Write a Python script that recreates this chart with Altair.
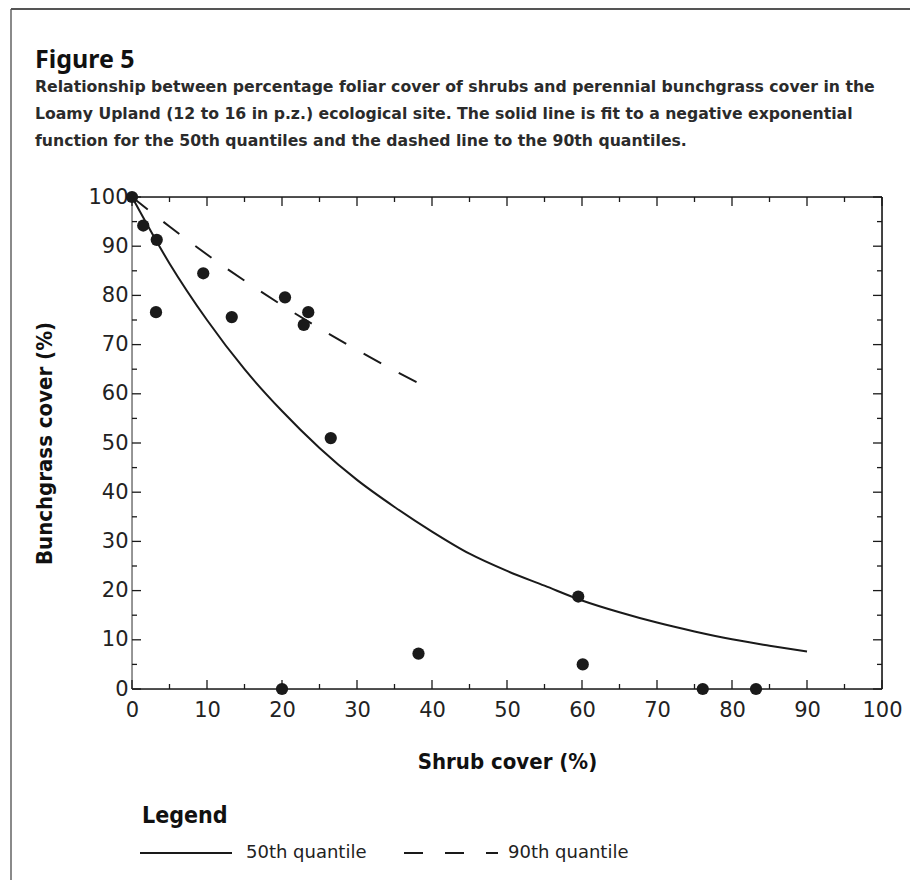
import altair as alt
import pandas as pd

# ---- data ----
shrub_cover = [0, 1.5, 3.3, 3.2, 9.5, 13.3, 20.4, 23.5, 22.9, 26.5, 20.0, 38.2, 59.5, 60.1, 76.1, 83.2]
bunchgrass_cover = [100, 94.2, 91.3, 76.6, 84.5, 75.6, 79.6, 76.6, 74.0, 51.0, 0, 7.2, 18.8, 5.0, 0, 0]

q50_shrub = [0, 5, 10, 15, 20, 25, 30, 35, 40, 45, 50, 55, 60, 65, 70, 75, 80, 85, 90]
q50_grass = [100, 86.5, 75, 65, 56.5, 49, 42.5, 37, 32, 27.5, 24, 21, 18, 15.6, 13.5, 11.7, 10.1, 8.8, 7.6]

q90_shrub = [0, 5, 10, 15, 20, 25, 30, 35, 40]
q90_grass = [100, 94, 88.3, 83, 78, 73.3, 68.9, 64.7, 60.8]

major_ticks = [0, 10, 20, 30, 40, 50, 60, 70, 80, 90, 100]
minor_ticks = [5, 15, 25, 35, 45, 55, 65, 75, 85, 95]

title_text = "Figure 5"
subtitle_lines = [
    "Relationship between percentage foliar cover of shrubs and perennial bunchgrass cover in the",
    "Loamy Upland (12 to 16 in p.z.) ecological site. The solid line is fit to a negative exponential",
    "function for the 50th quantiles and the dashed line to the 90th quantiles.",
]
x_title = "Shrub cover (%)"
y_title = "Bunchgrass cover (%)"
legend_title = "Legend"
legend_labels = ["50th quantile", "90th quantile"]

# ---- layout ----
W, H = 750, 492
PAD_L, PAD_T = 124, 189
TOTAL_W, TOTAL_H = 902, 872
INK = "#1a1a1a"
COND = "Liberation Sans Narrow, DejaVu Sans Condensed, sans-serif"
PLAIN = "DejaVu Sans"

xscale = alt.Scale(domain=[0, 100], nice=False, zero=True)
yscale = alt.Scale(domain=[0, 100], nice=False, zero=True)

xaxis = alt.Axis(values=major_ticks, ticks=False, domain=False, grid=False,
                 labelFont=PLAIN, labelFontSize=21, labelColor="#222", labelPadding=10,
                 labelFlush=False, title=x_title, titleFont=COND, titleFontSize=22,
                 titleFontWeight="bold", titleColor="#111", titlePadding=31)
yaxis = alt.Axis(values=major_ticks, ticks=False, domain=False, grid=False,
                 labelFont=PLAIN, labelFontSize=21, labelColor="#222", labelPadding=4,
                 labelFlush=False, title=y_title, titleFont=COND, titleFontSize=22,
                 titleFontWeight="bold", titleColor="#111", titlePadding=31)


def X(field):
    return alt.X(field, type="quantitative", scale=xscale, axis=xaxis)


def Y(field):
    return alt.Y(field, type="quantitative", scale=yscale, axis=yaxis)


pts = pd.DataFrame({"shrub": shrub_cover, "grass": bunchgrass_cover})
q50 = pd.DataFrame({"shrub": q50_shrub, "grass": q50_grass})
q90 = pd.DataFrame({"shrub": q90_shrub, "grass": q90_grass})
maj = pd.DataFrame({"v": major_ticks})
mnr = pd.DataFrame({"v": minor_ticks})
one = pd.DataFrame({"k": [0]})

layers = []

# frame of the plot
frame = alt.Chart(one)
layers.append(frame.mark_rule(color=INK, strokeWidth=1.6).encode(x=alt.value(0), x2=alt.value(W), y=alt.value(0)))
layers.append(frame.mark_rule(color=INK, strokeWidth=1.6).encode(x=alt.value(0), x2=alt.value(W), y=alt.value(H)))
layers.append(frame.mark_rule(color=INK, strokeWidth=1.6).encode(x=alt.value(W), y=alt.value(0), y2=alt.value(H)))
layers.append(frame.mark_rule(color="#808080", strokeWidth=1.6).encode(x=alt.value(0), y=alt.value(0), y2=alt.value(H)))

# outer page border (left and top)
layers.append(frame.mark_rule(color="#8a8a8a", strokeWidth=2).encode(
    x=alt.value(11 - 8 - PAD_L), y=alt.value(9 - 8 - PAD_T), y2=alt.value(TOTAL_H - PAD_T)))
layers.append(frame.mark_rule(color="#555555", strokeWidth=2).encode(
    x=alt.value(11 - 8 - PAD_L), x2=alt.value(TOTAL_W - PAD_L), y=alt.value(9 - 8 - PAD_T)))

# inward ticks on all four sides
for df, ln in ((maj, 9), (mnr, 5)):
    layers.append(alt.Chart(df).mark_rule(color=INK, strokeWidth=1.3).encode(
        x=X("v"), y=alt.value(H), y2=alt.value(H - ln)))
    layers.append(alt.Chart(df).mark_rule(color=INK, strokeWidth=1.3).encode(
        x=X("v"), y=alt.value(0), y2=alt.value(ln)))
    layers.append(alt.Chart(df).mark_rule(color=INK, strokeWidth=1.3).encode(
        y=Y("v"), x=alt.value(0), x2=alt.value(ln)))
    layers.append(alt.Chart(df).mark_rule(color=INK, strokeWidth=1.3).encode(
        y=Y("v"), x=alt.value(W), x2=alt.value(W - ln)))

# fitted curves
layers.append(alt.Chart(q50).mark_line(color=INK, strokeWidth=2, interpolate="monotone").encode(
    x=X("shrub"), y=Y("grass")))
layers.append(alt.Chart(q90).mark_line(color=INK, strokeWidth=2, strokeDash=[20, 20], interpolate="monotone").encode(
    x=X("shrub"), y=Y("grass")))

# observations
layers.append(alt.Chart(pts).mark_circle(color=INK, opacity=1, size=150).encode(
    x=X("shrub"), y=Y("grass")))

# title block
tx = 35 - 8 - PAD_L
layers.append(frame.mark_text(align="left", baseline="alphabetic", font="Noto Sans", fontWeight="bold",
                              fontSize=25, color="#111").encode(
    x=alt.value(tx), y=alt.value(68 - 8 - PAD_T), text=alt.value(title_text)))
for i, line in enumerate(subtitle_lines):
    layers.append(frame.mark_text(align="left", baseline="alphabetic", font=PLAIN, fontWeight="bold",
                                  fontSize=15.7, color="#2b2b2b").encode(
        x=alt.value(tx), y=alt.value(92 + 27 * i - 8 - PAD_T), text=alt.value(line)))

# legend block
ly = 853 - 8 - PAD_T
layers.append(frame.mark_text(align="left", baseline="alphabetic", font=COND, fontWeight="bold",
                              fontSize=23, color="#111").encode(
    x=alt.value(142 - 8 - PAD_L), y=alt.value(823 - 8 - PAD_T), text=alt.value(legend_title)))
layers.append(frame.mark_rule(color=INK, strokeWidth=2).encode(
    x=alt.value(140 - 8 - PAD_L), x2=alt.value(232 - 8 - PAD_L), y=alt.value(ly)))
layers.append(frame.mark_rule(color=INK, strokeWidth=2, strokeDash=[19, 22]).encode(
    x=alt.value(404 - 8 - PAD_L), x2=alt.value(498 - 8 - PAD_L), y=alt.value(ly)))
layers.append(frame.mark_text(align="left", baseline="middle", font=PLAIN, fontSize=18, color="#222").encode(
    x=alt.value(246 - 8 - PAD_L), y=alt.value(ly), text=alt.value(legend_labels[0])))
layers.append(frame.mark_text(align="left", baseline="middle", font=PLAIN, fontSize=18, color="#222").encode(
    x=alt.value(508 - 8 - PAD_L), y=alt.value(ly), text=alt.value(legend_labels[1])))

chart = alt.layer(*layers).properties(
    width=W, height=H,
    autosize=alt.AutoSizeParams(type="none"),
    padding={"left": PAD_L, "top": PAD_T, "right": TOTAL_W - PAD_L - W, "bottom": TOTAL_H - PAD_T - H},
).configure_view(stroke=None).configure(background="white")

chart.save("out.html", embed_options={"renderer": "svg", "actions": False})
